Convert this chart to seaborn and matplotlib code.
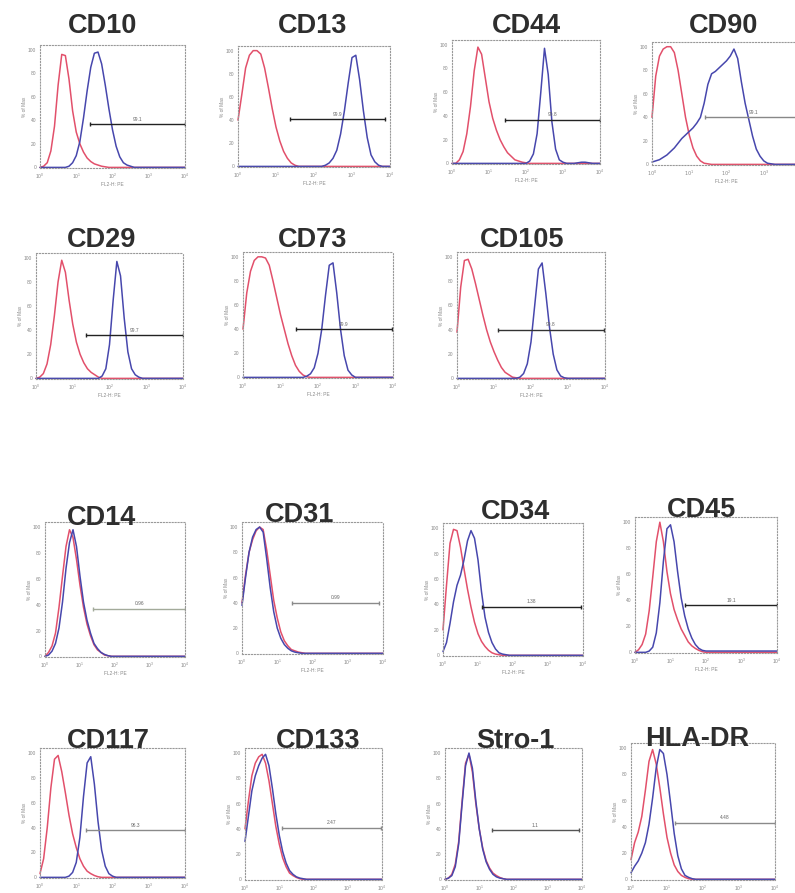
import numpy as np
import pandas as pd
import matplotlib
matplotlib.use("Agg")
import matplotlib.pyplot as plt
import seaborn as sns

sns.set_theme(style="white")
plt.rcParams["font.family"] = ["Liberation Sans", "DejaVu Sans"]

# fluorescence axis: 41 bins, 10^0 .. 10^4
decades = np.linspace(0, 4, 41)
fluor = 10 ** decades

markers = ["CD10", "CD13", "CD44", "CD90", "CD29", "CD73", "CD105",
           "CD14", "CD31", "CD34", "CD45", "CD117", "CD133", "Stro-1", "HLA-DR"]

# % of max, isotype control (red) and stained sample (blue)
cd10_iso = [0, 1, 4, 14, 35, 70, 96, 95, 75, 48, 30, 20, 13, 8, 5, 3, 2, 1, 0.5, 0,
            0, 0, 0, 0, 0, 0, 0, 0, 0, 0, 0, 0, 0, 0, 0, 0, 0, 0, 0, 0, 0]
cd10_ab = [0, 0, 0, 0, 0, 0, 0, 0, 1, 4, 10, 22, 42, 65, 85, 97, 98, 88, 70, 50,
           32, 18, 9, 4, 2, 1, 0, 0, 0, 0, 0, 0, 0, 0, 0, 0, 0, 0, 0, 0, 0]
cd13_iso = [40, 62, 85, 96, 100, 100, 97, 85, 68, 50, 34, 22, 13, 7, 3, 1, 0, 0, 0, 0,
            0, 0, 0, 0, 0, 0, 0, 0, 0, 0, 0, 0, 0, 0, 0, 0, 0, 0, 0, 0, 0]
cd13_ab = [0, 0, 0, 0, 0, 0, 0, 0, 0, 0, 0, 0, 0, 0, 0, 0, 0, 0, 0, 0,
           0, 0, 0, 1, 3, 7, 14, 28, 48, 72, 94, 96, 75, 48, 25, 10, 4, 1, 0, 0, 0]
cd44_iso = [0, 0, 3, 10, 25, 48, 78, 98, 92, 72, 52, 38, 28, 20, 14, 9, 6, 3, 2, 1,
            0.5, 0, 0, 0, 0, 0, 0, 0, 0, 0, 0, 0, 0, 0, 0, 0, 0, 0, 0, 0, 0]
cd44_ab = [0, 0, 0, 0, 0, 0, 0, 0, 0, 0, 0, 0, 0, 0, 0, 0, 0, 0, 0, 0,
           0, 2, 8, 25, 60, 97, 75, 35, 12, 3, 1, 0, 0, 0, 0.5, 1, 1, 0.5, 0, 0, 0]
cd90_iso = [40, 75, 92, 98, 100, 100, 95, 80, 60, 40, 25, 14, 7, 3, 1, 0.5, 0, 0, 0, 0,
            0, 0, 0, 0, 0, 0, 0, 0, 0, 0, 0, 0, 0, 0, 0, 0, 0, 0, 0, 0, 0]
cd90_ab = [2, 3, 4, 6, 8, 11, 14, 18, 22, 25, 28, 31, 35, 40, 52, 68, 77, 79, 82, 85,
           88, 92, 98, 90, 70, 52, 38, 24, 13, 7, 3, 1, 0.5, 0, 0, 0, 0, 0, 0, 0, 0]
cd29_iso = [0, 1, 4, 12, 28, 52, 80, 98, 88, 65, 45, 30, 20, 13, 8, 5, 3, 1, 0, 0,
            0, 0, 0, 0, 0, 0, 0, 0, 0, 0, 0, 0, 0, 0, 0, 0, 0, 0, 0, 0, 0]
cd29_ab = [0, 0, 0, 0, 0, 0, 0, 0, 0, 0, 0, 0, 0, 0, 0, 0, 0, 0, 2, 8,
           28, 65, 97, 85, 50, 22, 8, 3, 1, 0, 0, 0, 0, 0, 0, 0, 0, 0, 0, 0, 0]
cd73_iso = [40, 70, 88, 97, 100, 100, 99, 93, 80, 66, 52, 40, 28, 18, 10, 5, 2, 0.5, 0, 0,
            0, 0, 0, 0, 0, 0, 0, 0, 0, 0, 0, 0, 0, 0, 0, 0, 0, 0, 0, 0, 0]
cd73_ab = [0, 0, 0, 0, 0, 0, 0, 0, 0, 0, 0, 0, 0, 0, 0, 0, 0, 1, 3, 8,
           20, 40, 68, 93, 95, 70, 40, 18, 6, 2, 0, 0, 0, 0, 0, 0, 0, 0, 0, 0, 0]
cd105_iso = [38, 75, 97, 98, 90, 78, 65, 52, 40, 30, 22, 15, 9, 5, 3, 1, 0.5, 0, 0, 0,
             0, 0, 0, 0, 0, 0, 0, 0, 0, 0, 0, 0, 0, 0, 0, 0, 0, 0, 0, 0, 0]
cd105_ab = [0, 0, 0, 0, 0, 0, 0, 0, 0, 0, 0, 0, 0, 0, 0, 0, 0, 1, 4, 12,
            30, 60, 90, 95, 70, 42, 20, 7, 2, 0.5, 0, 0, 0, 0, 0, 0, 0, 0, 0, 0, 0]
cd14_iso = [0, 3, 8, 18, 38, 62, 85, 98, 92, 75, 55, 38, 25, 16, 9, 5, 3, 1, 0.5, 0,
            0, 0, 0, 0, 0, 0, 0, 0, 0, 0, 0, 0, 0, 0, 0, 0, 0, 0, 0, 0, 0]
cd14_ab = [0, 1, 4, 10, 22, 42, 68, 88, 98, 85, 62, 42, 28, 18, 10, 6, 3, 1.5, 0.5, 0,
           0, 0, 0, 0, 0, 0, 0, 0, 0, 0, 0, 0, 0, 0, 0, 0, 0, 0, 0, 0, 0]
cd31_iso = [40, 62, 80, 90, 97, 100, 98, 82, 62, 42, 28, 17, 10, 6, 3, 2, 1, 0.5, 0, 0,
            0, 0, 0, 0, 0, 0, 0, 0, 0, 0, 0, 0, 0, 0, 0, 0, 0, 0, 0, 0, 0]
cd31_ab = [38, 60, 80, 92, 98, 100, 96, 75, 52, 33, 20, 12, 7, 4, 2, 1, 0.5, 0, 0, 0,
           0, 0, 0, 0, 0, 0, 0, 0, 0, 0, 0, 0, 0, 0, 0, 0, 0, 0, 0, 0, 0]
cd34_iso = [20, 55, 88, 99, 98, 85, 68, 52, 38, 26, 17, 11, 7, 4, 2, 1, 0.5, 0, 0, 0,
            0, 0, 0, 0, 0, 0, 0, 0, 0, 0, 0, 0, 0, 0, 0, 0, 0, 0, 0, 0, 0]
cd34_ab = [3, 10, 25, 42, 55, 63, 75, 90, 98, 92, 75, 50, 30, 18, 10, 5, 2, 1, 0.5, 0,
           0, 0, 0, 0, 0, 0, 0, 0, 0, 0, 0, 0, 0, 0, 0, 0, 0, 0, 0, 0, 0]
cd45_iso = [0, 2, 6, 14, 32, 58, 85, 100, 85, 62, 45, 33, 25, 18, 13, 8, 5, 3, 1.5, 0.5,
            0, 0, 0, 0, 0, 0, 0, 0, 0, 0, 0, 0, 0, 0, 0, 0, 0, 0, 0, 0, 0]
cd45_ab = [0, 0, 0, 0, 1, 4, 15, 38, 70, 95, 98, 85, 62, 42, 28, 18, 11, 6, 3, 1.5,
           1, 1, 1, 1, 1, 1, 1, 1, 1, 1, 1, 1, 1, 1, 1, 1, 1, 1, 1, 1, 1]
cd117_iso = [3, 15, 40, 72, 95, 98, 85, 68, 50, 35, 24, 15, 9, 5, 3, 1.5, 0.5, 0, 0, 0,
             0, 0, 0, 0, 0, 0, 0, 0, 0, 0, 0, 0, 0, 0, 0, 0, 0, 0, 0, 0, 0]
cd117_ab = [0, 0, 0, 0, 0, 0, 0, 0, 1, 4, 12, 32, 65, 92, 97, 75, 45, 22, 9, 3,
            1, 0, 0, 0, 0, 0, 0, 0, 0, 0, 0, 0, 0, 0, 0, 0, 0, 0, 0, 0, 0]
cd133_iso = [40, 62, 82, 92, 97, 99, 92, 78, 60, 42, 28, 17, 10, 5, 3, 1.5, 0.5, 0, 0, 0,
             0, 0, 0, 0, 0, 0, 0, 0, 0, 0, 0, 0, 0, 0, 0, 0, 0, 0, 0, 0, 0]
cd133_ab = [30, 50, 70, 82, 90, 96, 99, 90, 72, 52, 35, 22, 13, 7, 4, 2, 1, 0.5, 0, 0,
            0, 0, 0, 0, 0, 0, 0, 0, 0, 0, 0, 0, 0, 0, 0, 0, 0, 0, 0, 0, 0]
stro1_iso = [0, 1, 4, 12, 30, 62, 92, 99, 85, 60, 40, 25, 15, 9, 5, 3, 1.5, 0.5, 0, 0,
             0, 0, 0, 0, 0, 0, 0, 0, 0, 0, 0, 0, 0, 0, 0, 0, 0, 0, 0, 0, 0]
stro1_ab = [0, 1, 3, 10, 28, 60, 90, 100, 88, 62, 40, 24, 14, 8, 4, 2, 1, 0.5, 0, 0,
            0, 0, 0, 0, 0, 0, 0, 0, 0, 0, 0, 0, 0, 0, 0, 0, 0, 0, 0, 0, 0]
hladr_iso = [15, 28, 36, 48, 68, 90, 99, 88, 70, 50, 32, 20, 11, 6, 3, 1.5, 0.5, 0, 0, 0,
             0, 0, 0, 0, 0, 0, 0, 0, 0, 0, 0, 0, 0, 0, 0, 0, 0, 0, 0, 0, 0]
hladr_ab = [5, 10, 14, 20, 28, 42, 62, 85, 99, 96, 80, 58, 35, 18, 8, 3, 1.5, 0.5, 0, 0,
            0, 0, 0, 0, 0, 0, 0, 0, 0, 0, 0, 0, 0, 0, 0, 0, 0, 0, 0, 0, 0]

iso_curves = [cd10_iso, cd13_iso, cd44_iso, cd90_iso, cd29_iso, cd73_iso, cd105_iso,
              cd14_iso, cd31_iso, cd34_iso, cd45_iso, cd117_iso, cd133_iso, stro1_iso, hladr_iso]
ab_curves = [cd10_ab, cd13_ab, cd44_ab, cd90_ab, cd29_ab, cd73_ab, cd105_ab,
             cd14_ab, cd31_ab, cd34_ab, cd45_ab, cd117_ab, cd133_ab, stro1_ab, hladr_ab]

# gate marker: start/end (log10 units), height (% of max), percent positive
gate_start = [1.38, 1.38, 1.44, 1.43, 1.37, 1.40, 1.10, 1.38, 1.42, 1.12, 1.42, 1.28, 1.09, 1.38, 1.23]
gate_end = [4.0, 3.87, 4.0, 4.0, 4.0, 3.96, 3.96, 4.0, 3.9, 3.95, 4.0, 4.0, 3.97, 3.9, 4.0]
gate_y = [37, 41, 37, 40, 36, 40, 40, 37, 40, 38, 36, 38, 41, 39, 43]
gate_pct = ["99.1", "99.9", "99.8", "99.1", "99.7", "99.9", "99.8",
            "0.96", "0.99", "1.38", "19.1", "96.3", "2.47", "1.1", "4.48"]
gate_color = ["#222222", "#222222", "#222222", "#888888", "#222222", "#222222", "#333333",
              "#a3aa9a", "#8a8a8a", "#222222", "#222222", "#8a8a8a", "#8a8a8a", "#555555", "#8a8a8a"]

# panel boxes in pixels (left, top, right, bottom) and title centre / baseline
W, H = 795, 893
boxes = [(40, 45, 185, 168), (238, 46, 390, 167), (452, 40, 600, 164), (652, 42, 801, 165),
         (36, 253, 183, 379), (243, 252, 393, 378), (457, 252, 605, 379),
         (45, 522, 185, 657), (242, 522, 383, 654), (443, 523, 583, 656), (635, 517, 777, 653),
         (40, 748, 185, 878), (245, 748, 382, 880), (445, 748, 582, 880), (631, 743, 775, 880)]
title_pos = [(103, 33), (313, 33), (526, 33), (724, 33),
             (102, 247), (313, 247), (522, 247),
             (101, 525), (300, 522), (515, 519), (702, 517),
             (108, 748), (318, 748), (515, 748), (697, 746)]

red = "#e2506b"
blue = "#4747ad"

fig = plt.figure(figsize=(W / 100, H / 100), dpi=100)

for i, name in enumerate(markers):
    l, t, r, b = boxes[i]
    ax = fig.add_axes([l / W, 1 - b / H, (r - l) / W, (b - t) / H])
    df = pd.DataFrame({
        "fluor": np.concatenate([fluor, fluor]),
        "pct": iso_curves[i] + ab_curves[i],
        "stain": ["isotype"] * 41 + ["antibody"] * 41,
    })
    sns.lineplot(data=df, x="fluor", y="pct", hue="stain",
                 hue_order=["isotype", "antibody"],
                 palette={"isotype": red, "antibody": blue},
                 legend=False, lw=1.1, ax=ax, clip_on=False)
    ax.set_xscale("log")
    ax.set_xlim(1, 1e4)
    ax.set_ylim(-0.5, 104)

    g0, g1, gy = 10 ** gate_start[i], 10 ** gate_end[i], gate_y[i]
    ax.plot([g0, g1], [gy, gy], color=gate_color[i], lw=1.0)
    ax.plot([g0, g1], [gy, gy], ls="none", marker="|", ms=3, color=gate_color[i])
    ax.text(10 ** ((gate_start[i] + gate_end[i]) / 2), gy + 2, gate_pct[i],
            fontsize=3.5, ha="center", va="bottom", color="#666666")

    ax.set_xticks([1, 10, 100, 1000, 10000])
    if name == "CD90":
        # right edge of this panel runs off the page
        ax.set_xticklabels(["$10^0$", "$10^1$", "$10^2$", "$10^3$", ""])
    ax.minorticks_off()
    ax.set_yticks([0, 20, 40, 60, 80, 100])
    ax.tick_params(labelsize=3.5, colors="#888888", length=1.5, width=0.5, pad=1.2)
    if i < 11:
        ax.set_xlabel("FL2-H: PE", fontsize=3.5, color="#888888", labelpad=1)
    else:
        ax.set_xlabel("")
    ax.set_ylabel("% of Max", fontsize=3.5, color="#888888", labelpad=1)
    for s in ax.spines.values():
        s.set_linestyle(":")
        s.set_color("#999999")
        s.set_linewidth(0.8)

    tx, ty = title_pos[i]
    fig.text(tx / W, 1 - ty / H, name, ha="center", va="baseline",
             fontsize=19.5, fontweight="bold", color="#2e2e2e")

fig.savefig("out.png", dpi=100, facecolor="white")
